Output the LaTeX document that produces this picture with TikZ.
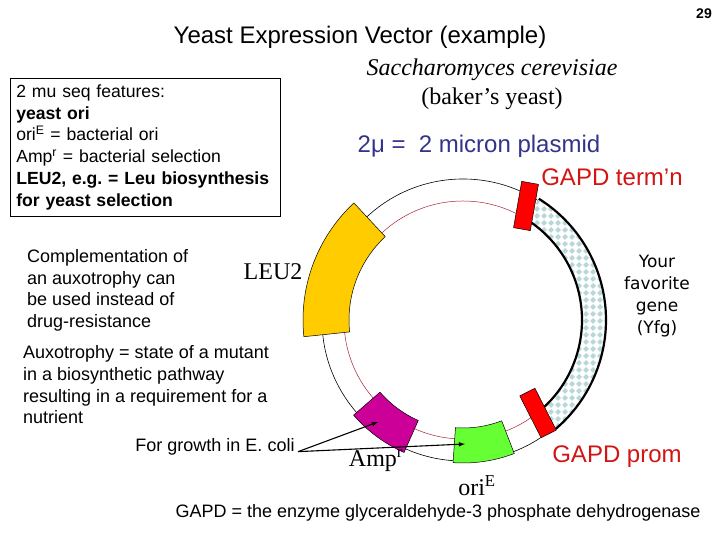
\documentclass[tikz,border=0pt]{standalone}
\usepackage{fontspec}
\setmainfont{Liberation Sans}
\newfontfamily\timesfont{Liberation Serif}
\newfontfamily\yfgfont{DejaVu Sans}
\usetikzlibrary{calc,arrows,patterns,positioning}

\definecolor{leuyellow}{RGB}{255,204,0}
\definecolor{ampmagenta}{RGB}{204,0,153}
\definecolor{origreen}{RGB}{102,255,51}
\definecolor{gapdred}{RGB}{255,0,0}
\definecolor{labelred}{RGB}{210,20,20}
\definecolor{micronblue}{RGB}{51,51,140}
\definecolor{ringred}{RGB}{170,30,50}
\definecolor{checkblue}{RGB}{185,215,215}

\pgfdeclarepatternformonly{yfgdiamonds}{\pgfqpoint{0pt}{0pt}}{\pgfqpoint{6.5pt}{6.5pt}}{\pgfqpoint{6.5pt}{6.5pt}}{%
\pgfpathmoveto{\pgfqpoint{3.25pt}{0.1pt}}\pgfpathlineto{\pgfqpoint{6.4pt}{3.25pt}}%
\pgfpathlineto{\pgfqpoint{3.25pt}{6.4pt}}\pgfpathlineto{\pgfqpoint{0.1pt}{3.25pt}}%
\pgfpathclose\pgfusepath{fill}}

\tikzset{ring/.style={line width=0.6pt},segment/.style={draw=black,line width=0.5pt}}

\begin{document}
\begin{tikzpicture}[x=1pt,y=1pt,font=\fontsize{18}{21.7}\selectfont]

\tikzset{bigtext/.style={font=\fontsize{24}{28}\selectfont},
timestext/.style={font=\timesfont\fontsize{24}{28}\selectfont},
yfgtext/.style={font=\yfgfont\fontsize{17}{22}\selectfont,align=center},
redbox/.style={draw=black,fill=gapdred,line width=0.5pt,minimum width=17pt,minimum height=47pt,inner sep=0pt},
pointer/.style={-latex,line width=1.1pt}}

\useasboundingbox (0,0) rectangle (720,540);

% Plasmid ring
\coordinate (C) at (463,220);
\draw[ring,black] (C) circle[radius=141];
\draw[ring,ringred,line width=0.5pt] (C) circle[radius=119];

% Yfg insert
\fill[white] ($(C)+(-50:119)$) arc[start angle=-50,end angle=58,radius=119] -- ($(C)+(58:143)$) arc[start angle=58,end angle=-50,radius=143] -- cycle;
\fill[pattern=yfgdiamonds,pattern color=checkblue] ($(C)+(-50:119)$) arc[start angle=-50,end angle=58,radius=119] -- ($(C)+(58:143)$) arc[start angle=58,end angle=-50,radius=143] -- cycle;
\foreach \r in {119,143} \draw[line width=2.2pt] ($(C)+(-50:\r)$) arc[start angle=-50,end angle=58,radius=\r];

% Gene segments (LEU2, Amp, ori)
\foreach \a/\b/\ri/\ro/\col in {133/186/114/160/leuyellow,221/246/110/145/ampmagenta,266/291/108/143/origreen}
  \filldraw[segment,fill=\col] ($(C)+(\a:\ro)$) arc[start angle=\a,end angle=\b,radius=\ro] -- ($(C)+(\b:\ri)$) arc[start angle=\b,end angle=\a,radius=\ri] -- cycle;

% GAPD boxes
\node[redbox,rotate=-10] (termBox) at (526,334) {};
\node[redbox,rotate=27] (promBox) at (538,127) {};

% Titles
\node (title) at (360,503) {\fontsize{24}{28}\selectfont Yeast Expression Vector (example)};
\node (pagenum) at (704,526) {\fontsize{14}{16}\selectfont\bfseries 29};
\node[timestext] (species) at (492,470) {\itshape Saccharomyces cerevisiae};
\node[timestext] (baker) at (492,441) {(baker’s yeast)};
\node[bigtext,text=micronblue] (micron) at (479,394) {2μ = \ 2 micron plasmid};

% Features box
\node[draw,anchor=north west,align=left,text width=258pt,minimum height=138pt,inner xsep=6pt,inner ysep=6pt,line width=0.6pt,font=\fontsize{17.6}{21.7}\selectfont] (features) at (10,462)
{2 mu seq features:\\
\textbf{yeast ori}\\
ori\textsuperscript{E} = bacterial ori\\
Amp\textsuperscript{r} = bacterial selection\\
\textbf{LEU2, e.g.\ = Leu biosynthesis}\\
\textbf{for yeast selection}};

% Notes on the left
\node[anchor=west,align=left,inner sep=0pt] (compl) at (27,249.5) {Complementation of\\an auxotrophy can\\be used instead of\\drug-resistance};
\node[anchor=west,align=left,inner sep=0pt] (auxo) at (23,155) {Auxotrophy = state of a mutant\\in a biosynthetic pathway\\resulting in a requirement for a\\nutrient};

% Segment labels
\node[timestext] (leu) at (273,268) {LEU2};
\node[timestext,anchor=base] (amp) at (376,73) {Amp\textsuperscript{r}};
\node[timestext,anchor=base] (ori) at (477,44) {ori\textsuperscript{E}};
\node[bigtext,text=labelred] (term) at (612,363) {GAPD term’n};
\node[bigtext,text=labelred] (prom) at (617,83) {GAPD prom};
\node[yfgtext] (yfg) at (657,244) {Your\\favorite\\gene\\(Yfg)};

% E. coli arrows
\node (ecoli) at (215,93) {For growth in E. coli};
\coordinate (ampTip) at (378,118);
\coordinate (oriTip) at (465,96);
\draw[pointer] (ecoli.base east) -- (ampTip);
\draw[pointer] (ecoli.base east) -- (oriTip);

% Footnote
\node (gapdnote) at (438,27) {GAPD = the enzyme glyceraldehyde-3 phosphate dehydrogenase};

\end{tikzpicture}
\end{document}
